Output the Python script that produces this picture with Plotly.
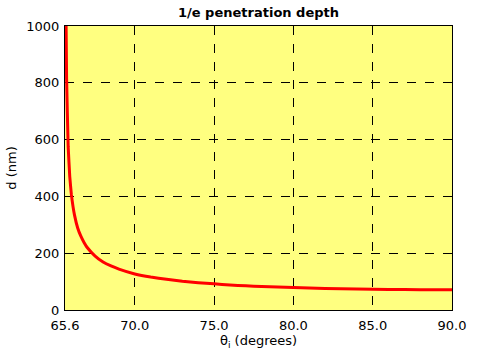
import plotly.graph_objects as go

# incidence angle (degrees) and 1/e penetration depth (nm)
theta = [65.62, 65.65, 65.7, 65.8, 65.9, 66.0, 66.2, 66.4, 66.6, 66.8, 67.0,
         67.5, 68.0, 68.5, 69.0, 70.0, 71.0, 72.0, 73.0, 74.0, 75.0, 76.0,
         77.0, 78.0, 80.0, 82.0, 84.0, 86.0, 88.0, 90.0]
depth = [1820, 1150, 815, 575, 470, 408, 334, 289, 260, 238, 220,
         190, 169, 155, 144, 127, 116, 108, 101, 96, 92, 88,
         85, 83, 79, 76, 74, 72.4, 71.7, 71.4]

x_tickvals = [65.6, 70, 75, 80, 85, 90]
x_ticktext = ["65.6", "70.0", "75.0", "80.0", "85.0", "90.0"]
y_tickvals = [0, 200, 400, 600, 800, 1000]

fig = go.Figure()
fig.add_trace(go.Scatter(x=theta, y=depth, mode="lines",
                         line=dict(color="#ff0000", width=3, shape="spline", smoothing=0.3),
                         showlegend=False, hoverinfo="skip"))

axis_common = dict(showline=True, linecolor="black", linewidth=1, mirror=True,
                   showgrid=True, gridcolor="black", griddash="dash", gridwidth=1,
                   zeroline=False, ticks="", automargin=False,
                   tickfont=dict(size=13, color="black"))

fig.update_xaxes(range=[65.6, 90], tickvals=x_tickvals, ticktext=x_ticktext,
                 ticklabelstandoff=3,
                 title=dict(text="θ<sub>i</sub> (degrees)", font=dict(size=13, color="black"), standoff=4),
                 **axis_common)
fig.update_yaxes(range=[0, 1000], tickvals=y_tickvals, ticklabelstandoff=2,
                 title=dict(text="d (nm)", font=dict(size=13, color="black"), standoff=6),
                 **axis_common)

fig.update_layout(
    width=500, height=350,
    margin=dict(l=65, r=48, t=26, b=40),
    paper_bgcolor="white", plot_bgcolor="#ffff80",
    font=dict(family="DejaVu Sans", size=13, color="black"),
    title=dict(text="<b>1/e penetration depth</b>", x=0.517, xanchor="center",
               y=0.965, yanchor="middle", font=dict(size=13, color="black")),
)

fig.write_html("out.html")
